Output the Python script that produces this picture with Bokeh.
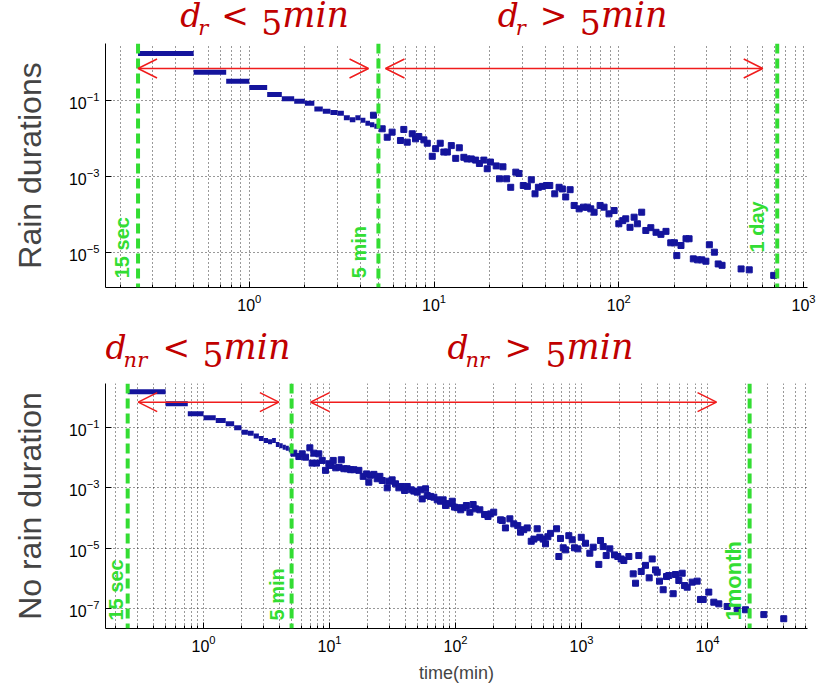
from bokeh.plotting import figure
from bokeh.layouts import column
from bokeh.models import Range1d, FixedTicker, Span, Label, Arrow, OpenHead
from bokeh.embed import file_html
from bokeh.resources import INLINE

# ---------------- data ----------------
step_edges = [0.25, 0.5, 0.75, 1.0, 1.25, 1.5, 1.75, 2.0, 2.25, 2.5, 2.75,
              3.0, 3.25, 3.5, 3.75, 4.0, 4.25, 4.5, 4.75, 5.0]

rain_step_p = [1.72, 0.55, 0.32, 0.22, 0.144, 0.111, 0.096, 0.085, 0.060, 0.052,
               0.048, 0.046, 0.035, 0.031, 0.035, 0.030, 0.025, 0.023, 0.021]

norain_step_p = [1.52, 0.61, 0.284, 0.21, 0.17, 0.133, 0.098, 0.070, 0.065, 0.052,
                 0.043, 0.037, 0.0335, 0.037, 0.0274, 0.0247, 0.0222, 0.0206, 0.0182]

rain_t = [4.7, 5.24, 5.58, 5.93, 6.58, 6.86, 7.16, 7.62, 7.94, 8.27, 8.81, 9.19, 9.78,
          10.2, 10.8, 11.3, 11.8, 12.4, 13.1, 13.7, 14.5, 15.1, 15.9, 16.8, 17.6, 18.6,
          19.4, 20.2, 21.7, 22.6, 23.6, 24.7, 26.0, 27.7, 28.8, 30.4, 32.0, 33.6, 35.2,
          36.7, 38.6, 40.6, 42.3, 45.0, 47.5, 49.5, 51.6, 54.5, 57.3, 61.0, 64.4, 67.6,
          70.5, 73.5, 79.2, 83.2, 88.5, 94.3, 100, 105, 109, 115, 121, 126, 133, 140,
          149, 159, 169, 180, 191, 200, 206, 217, 231, 240, 253, 267, 281, 296, 309,
          329, 345, 362, 459, 508, 689]
rain_p = [0.041, 0.0180, 0.0108, 0.0147, 0.00886, 0.0173, 0.0080, 0.0133, 0.0098, 0.0113,
          0.0092, 0.0075, 0.0034, 0.0054, 0.0075, 0.0044, 0.0044, 0.0065, 0.0030, 0.0057,
          0.0032, 0.0029, 0.0029, 0.0027, 0.0022, 0.0027, 0.0016, 0.0024, 0.0019, 0.00087,
          0.0018, 0.00087, 0.00052, 0.0013, 0.0012, 0.00058, 0.00055, 0.00082, 0.00035,
          0.00052, 0.00055, 0.00058, 0.00058, 0.00035, 0.00052, 0.00047, 0.00029, 0.00045,
          0.000173, 0.000141, 0.000156, 0.000156, 0.000141, 0.000115, 0.000173, 0.000156,
          0.000104, 0.000127, 5.7e-5, 6.9e-5, 7.7e-5, 4.6e-5, 8.5e-5, 5.7e-5, 0.000115,
          3.8e-5, 4.5e-5, 3.4e-5, 3.0e-5, 3.6e-5, 1.8e-5, 1.8e-5, 8.3e-6, 1.53e-5, 2.3e-5,
          2.3e-5, 6.8e-6, 6.4e-6, 6.4e-6, 5.9e-6, 1.6e-5, 1.02e-5, 5.0e-6, 4.6e-6, 3.7e-6,
          3.5e-6, 2.5e-6]

norain_t = [5.21, 5.71, 6.07, 6.45, 6.98, 7.28, 7.51, 7.88, 8.22, 8.75, 9.29, 9.88, 10.2,
            10.7, 11.2, 11.9, 12.4, 13.0, 13.8, 14.7, 15.6, 17.1, 18.5, 19.7, 20.5, 21.1,
            22.5, 23.9, 25.1, 26.2, 28.7, 29.6, 31.4, 33.4, 35.5, 37.1, 39.4, 41.4, 44.5,
            46.7, 49.6, 52.7, 54.4, 57.8, 59.6, 63.3, 67.3, 71.6, 76.0, 79.8, 83.3, 88.5,
            94.2, 98.2, 103, 110, 115, 122, 130, 138, 144, 156, 170, 181, 190, 201, 228,
            235, 249, 270, 290, 312, 328, 348, 371, 399, 419, 445, 467, 496, 518, 541, 568,
            634, 661, 681, 716, 747, 793, 844, 880, 935, 995, 1076, 1164, 1239, 1372, 1416,
            1487, 1570, 1678, 1828, 1941, 2065, 2168, 2375, 2572, 2685, 2851, 2978, 3221,
            3445, 3640, 3867, 3989, 4159, 4449, 4728, 4932, 5343, 5572, 5919, 6297, 6565,
            6898, 7559, 8278, 8796, 9245, 10240, 11220, 12300, 14320, 17200, 20040, 28000,
            40300]
norain_p = [0.0141, 0.0109, 0.0134, 0.0104, 0.0212, 0.0066, 0.0141, 0.0066, 0.0134, 0.0081,
            0.0038, 0.0063, 0.0055, 0.0081, 0.0046, 0.0048, 0.0085, 0.0043, 0.0043, 0.0040,
            0.0040, 0.0038, 0.0024, 0.0029, 0.00154, 0.0026, 0.0028, 0.0020, 0.0024, 0.00175,
            0.0010, 0.00166, 0.00184, 0.00136, 0.0010, 0.00111, 0.00082, 0.00111, 0.00086,
            0.00078, 0.00072, 0.00086, 0.00043, 0.00093, 0.00056, 0.00052, 0.00049, 0.00040,
            0.00036, 0.00040, 0.00026, 0.00030, 0.00036, 0.00023, 0.00022, 0.000187, 0.00022,
            0.00026, 0.000156, 0.00028, 0.000201, 0.000187, 0.000131, 0.000112, 0.000137,
            0.000156, 8.7e-5, 8.3e-5, 4.7e-5, 9.4e-5, 6.4e-5, 5.6e-5, 3.4e-5, 4.1e-5, 4.7e-5,
            1.7e-5, 2.0e-5, 4.4e-5, 2.3e-5, 2.0e-5, 1.4e-5, 2.4e-5, 3.1e-5, 4.4e-5, 5.3e-6,
            2.1e-5, 1.03e-5, 8.8e-6, 2.6e-5, 1.9e-5, 1.03e-5, 9.5e-6, 2.3e-5, 1.46e-5, 6.8e-6,
            1.08e-5, 2.9e-6, 1.8e-5, 1.13e-5, 5.7e-6, 9.5e-6, 6.0e-6, 5.3e-6, 4.4e-6, 3.9e-6,
            5.3e-6, 1.41e-6, 6.9e-7, 5.7e-6, 1.69e-6, 2.7e-6, 1.04e-6, 4.4e-6, 1.91e-6, 1.6e-6,
            8.1e-7, 4.2e-7, 1.15e-6, 1.24e-6, 3.1e-7, 1.34e-6, 8.5e-7, 1.48e-6, 5.8e-7, 5.1e-7,
            7.5e-7, 8.1e-7, 2.0e-7, 2.0e-7, 3.5e-7, 1.62e-7, 1.43e-7, 1.17e-7, 9.8e-8, 9.1e-8,
            6.3e-8, 4.6e-8]

rain_marks = ["15 sec", "5 min", "1 day"]
rain_mark_t = [0.25, 5.0, 720]
norain_marks = ["15 sec", "5 min", "1month"]
norain_mark_t = [0.25, 5.0, 21600]

# ---------------- styles ----------------
BLUE = "#14149c"
GREEN = "#33dd33"
RED = "#f01c1c"
DARKRED = "#c00000"
SANS = "Liberation Sans"
SERIF = "DejaVu Serif"


def minor_list(d0, d1):
    return [k * 10.0 ** d for d in range(d0, d1) for k in range(2, 10)]


def make_fig(height, bottom, left, xr, yr, xmaj, xmin_, ymaj):
    p = figure(width=817, height=height, x_axis_type="log", y_axis_type="log",
               x_range=Range1d(*xr), y_range=Range1d(*yr),
               output_backend="svg", toolbar_location=None,
               min_border_top=0, min_border_bottom=bottom,
               min_border_left=left, min_border_right=10)
    p.outline_line_color = None
    p.background_fill_color = "white"
    p.border_fill_color = "white"
    p.xaxis.ticker = FixedTicker(ticks=xmaj, minor_ticks=xmin_)
    p.yaxis.ticker = FixedTicker(ticks=ymaj, minor_ticks=[])
    for ax in (p.xaxis[0], p.yaxis[0]):
        ax.major_tick_in = 6
        ax.major_tick_out = 0
        ax.minor_tick_in = 3
        ax.minor_tick_out = 0
        ax.axis_line_color = "black"
        ax.major_tick_line_color = "black"
        ax.minor_tick_line_color = "black"
        ax.major_label_text_font = SANS
        ax.major_label_text_font_size = "16px"
        ax.major_label_text_color = "black"
        ax.major_label_standoff = 6
    p.yaxis.axis_label_text_font = SANS
    p.yaxis.axis_label_text_font_size = "32px"
    p.yaxis.axis_label_text_font_style = "normal"
    p.yaxis.axis_label_standoff = 18
    p.xgrid.grid_line_color = "black"
    p.xgrid.grid_line_dash = "1 3"
    p.xgrid.grid_line_alpha = 0.8
    p.xgrid.minor_grid_line_color = "black"
    p.xgrid.minor_grid_line_dash = "1 3"
    p.xgrid.minor_grid_line_alpha = 0.8
    p.ygrid.grid_line_color = "black"
    p.ygrid.grid_line_dash = "1 3"
    p.ygrid.grid_line_alpha = 0.8
    return p


def make_strip(height, left, xrange):
    s = figure(width=817, height=height, x_axis_type="log", x_range=xrange,
               y_range=Range1d(0, height), output_backend="svg", toolbar_location=None,
               min_border_top=0, min_border_bottom=0, min_border_left=left,
               min_border_right=10, x_axis_location=None, y_axis_location=None)
    s.outline_line_color = None
    s.grid.visible = False
    s.background_fill_color = "white"
    s.border_fill_color = "white"
    return s


def add_data(p, step_p, t, prob):
    p.segment(x0=step_edges[:-1], x1=step_edges[1:], y0=step_p, y1=step_p,
              line_color=BLUE, line_width=5, line_cap="butt")
    p.scatter(t, prob, marker="square", size=6, fill_color=BLUE, line_color=BLUE)


def add_marks(p, names, times, text_x, y_text, sizes):
    for name, t, xt, yt, sz in zip(names, times, text_x, y_text, sizes):
        p.add_layout(Span(location=t, dimension="height", line_color=GREEN,
                          line_width=4, line_dash="10 5"))
        p.add_layout(Label(x=xt, y=yt, text=name, angle=1.5708,
                           text_align="left", text_baseline="middle",
                           text_font=SANS, text_font_style="bold",
                           text_font_size=sz, text_color=GREEN))


def add_title(s, x, y, sub, rel, offs):
    # offs: x offsets (px) of subscript, relation sign, "5", "min"
    s.add_layout(Label(x=x, y=y, text="d", text_font=SERIF, text_font_style="italic",
                       text_font_size="33px", text_color=DARKRED))
    s.add_layout(Label(x=x, y=y, x_offset=offs[0], y_offset=-5, text=sub, text_font=SERIF,
                       text_font_style="italic", text_font_size="21px", text_color=DARKRED))
    s.add_layout(Label(x=x, y=y, x_offset=offs[1], text=rel, text_font=SERIF,
                       text_font_size="33px", text_color=DARKRED))
    s.add_layout(Label(x=x, y=y, x_offset=offs[2], text="5", text_font=SERIF,
                       text_font_size="33px", text_color=DARKRED))
    s.add_layout(Label(x=x, y=y, x_offset=offs[3], text="min", text_font=SERIF,
                       text_font_style="italic", text_font_size="35px", text_color=DARKRED))


def add_arrow(p, x0, x1, y):
    p.add_layout(Arrow(start=OpenHead(size=19, line_color=RED, line_width=1.5),
                       end=OpenHead(size=19, line_color=RED, line_width=1.5),
                       x_start=x0, y_start=y, x_end=x1, y_end=y,
                       line_color=RED, line_width=1.5))


# ---------------- top panel ----------------
p1 = make_fig(287, 43, 104, (1 / 6, 1050), (1.2e-6, 3.16),
              [1, 10, 100, 1000], minor_list(-1, 3), [1e-1, 1e-3, 1e-5])
p1.yaxis.axis_label = "Rain durations"
add_data(p1, rain_step_p, rain_t, rain_p)
add_marks(p1, rain_marks, rain_mark_t, [0.2037, 3.924, 560], [2.1e-6, 2.1e-6, 1.0e-5],
          ["20px", "20px", "20px"])
add_arrow(p1, 0.25, 4.42, 0.695)
add_arrow(p1, 5.46, 601, 0.695)

s1 = make_strip(43, 104, p1.x_range)
add_title(s1, 0.423, 9, "r", "<", [18, 41, 81, 102])
add_title(s1, 22.1, 9, "r", ">", [18, 42, 82, 103])

# ---------------- bottom panel ----------------
p2 = make_fig(308, 63, 105, (1 / 6, 62200), (2.18e-8, 2.87),
              [1, 10, 100, 1000, 10000], minor_list(-1, 5), [1e-1, 1e-3, 1e-5, 1e-7])
p2.yaxis.axis_label = "No rain duration"
p2.xaxis.axis_label = "time(min)"
p2.xaxis.axis_label_text_font = SANS
p2.xaxis.axis_label_text_font_size = "18px"
p2.xaxis.axis_label_text_font_style = "normal"
p2.xaxis.axis_label_standoff = 8
add_data(p2, norain_step_p, norain_t, norain_p)
add_marks(p2, norain_marks, norain_mark_t, [0.2022, 3.80, 16230], [4.0e-8, 4.0e-8, 4.0e-8],
          ["20px", "20px", "22px"])
add_arrow(p2, 0.303, 3.96, 0.69)
add_arrow(p2, 7.07, 11800, 0.69)

s2 = make_strip(53, 105, p2.x_range)
add_title(s2, 0.167, 17, "nr", "<", [18, 57, 97, 118])
add_title(s2, 86.4, 17, "nr", ">", [18, 57, 98, 119])

layout = column(s1, p1, s2, p2, spacing=0)
open("out.html", "w").write(file_html(layout, INLINE))
